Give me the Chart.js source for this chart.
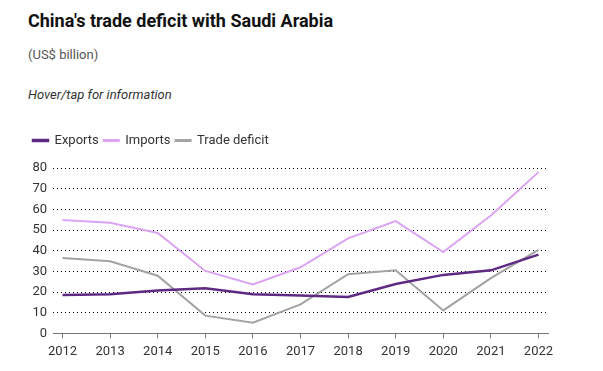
<!DOCTYPE html>
<html lang="en">
  <head>
    <meta charset="utf-8">
    <title>China's trade deficit with Saudi Arabia</title>
    <style>
      body { margin: 0; background: #fff; font-family: Roboto, "Noto Sans", sans-serif; }
      #wrap { position: relative; width: 603px; height: 371px; overflow: hidden; }
      .txt { position: absolute; left: 28px; white-space: nowrap; }
      #title { top: 10px; font-size: 18px; font-weight: bold; color: #111; }
      #unit { top: 47px; font-size: 13px; color: #555; }
      #hint { top: 87px; font-size: 13px; font-style: italic; color: #333; }
      #box { position: absolute; left: 0; top: 120px; width: 603px; height: 251px; }
    </style>
  </head>

  <body>
    <div id="wrap">
      <div class="txt" id="title">China's trade deficit with Saudi Arabia</div>
      <div class="txt" id="unit">(US$ billion)</div>
      <div class="txt" id="hint">Hover/tap for information</div>
      <div id="box"><canvas id="MyCanvas"></canvas></div>
    </div>

    <script src="https://cdn.jsdelivr.net/npm/chart.js@4/dist/chart.umd.min.js"></script>

    <script>
      // datos (US$ billion)
      const years = [2012, 2013, 2014, 2015, 2016, 2017, 2018, 2019, 2020, 2021, 2022];
      const exportsVals = [18.6, 18.9, 20.8, 21.8, 18.9, 18.3, 17.6, 23.9, 28.3, 30.5, 38.1];
      const importsVals = [54.9, 53.5, 48.6, 30.2, 23.7, 32.0, 46.0, 54.3, 39.3, 57.0, 78.0];
      const deficitVals = [36.5, 34.9, 27.9, 8.6, 5.2, 14.0, 28.6, 30.5, 11.1, 26.7, 40.4];
      const yTicks = [0, 10, 20, 30, 40, 50, 60, 70, 80];

      const toPoints = vals => vals.map((v, i) => ({ x: years[i], y: v }));

      Chart.defaults.font.family = 'Roboto, "Noto Sans", sans-serif';
      Chart.defaults.font.size = 13;
      Chart.defaults.color = '#333';

      // deja un hueco extra debajo de la leyenda
      const legendGap = {
        id: 'legendGap',
        beforeLayout(chart) {
          const lg = chart.legend;
          if (lg && !lg._gapped) {
            const fit = lg.fit;
            lg.fit = function () { fit.call(this); this.height += 11; };
            lg._gapped = true;
          }
        }
      };

      const ctx = document.getElementById('MyCanvas');
      const MyChart = new Chart(ctx, {
        type: 'line',
        data: {
          datasets: [
            { label: 'Exports', data: toPoints(exportsVals), borderColor: '#5e2a84', backgroundColor: '#5e2a84', borderWidth: 2.5 },
            { label: 'Imports', data: toPoints(importsVals), borderColor: '#dba3f2', backgroundColor: '#dba3f2', borderWidth: 2 },
            { label: 'Trade deficit', data: toPoints(deficitVals), borderColor: '#a3a3a3', backgroundColor: '#a3a3a3', borderWidth: 2 }
          ]
        },
        plugins: [legendGap],
        options: {
          responsive: true,
          maintainAspectRatio: false,
          animation: false,
          elements: { point: { radius: 0 }, line: { tension: 0 } },
          layout: { padding: { left: 28, right: 55, top: 9, bottom: 5 } },
          plugins: {
            tooltip: { enabled: false },
            legend: {
              align: 'start',
              labels: { boxWidth: 15, boxHeight: 1, padding: 5, color: '#333', font: { size: 13 } }
            }
          },
          scales: {
            x: {
              type: 'linear',
              min: 2011.8,
              max: 2022.2,
              afterBuildTicks: scale => { scale.ticks = years.map(v => ({ value: v })); },
              grid: { drawOnChartArea: false, drawTicks: true, tickLength: 5, color: '#777' },
              border: { color: '#777', width: 1 },
              ticks: { padding: 6, color: '#333', callback: v => String(v), maxRotation: 0, autoSkip: false }
            },
            y: {
              min: 0,
              max: 80,
              afterBuildTicks: scale => { scale.ticks = yTicks.map(v => ({ value: v })); },
              afterFit: scale => { scale.width = 25; },
              grid: {
                drawTicks: false,
                color: c => (c.tick && c.tick.value === 0 ? 'rgba(0,0,0,0)' : '#000'),
                lineWidth: 1
              },
              border: { display: false, dash: [1, 3] },
              ticks: { padding: 6, color: '#333' }
            }
          }
        }
      });
    </script>
  </body>
</html>
